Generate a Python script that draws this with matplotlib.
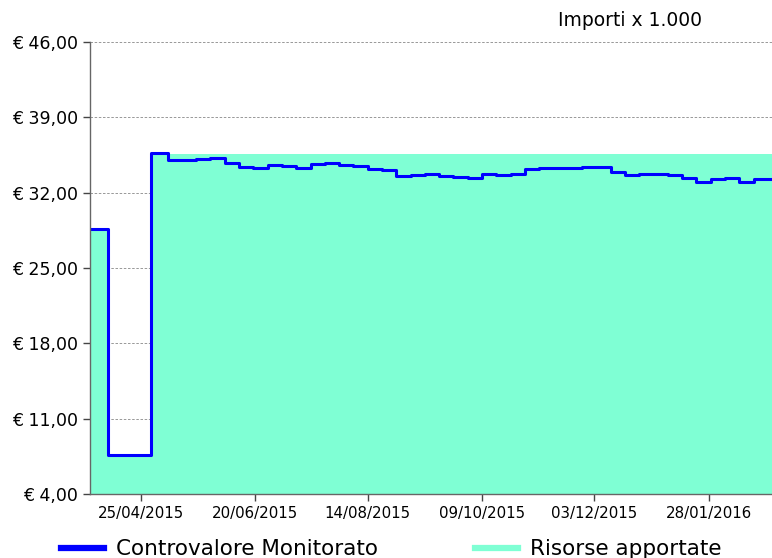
import numpy as np
import pandas as pd
import matplotlib as mpl
mpl.use('agg')
import matplotlib.pyplot as plt
import matplotlib.dates as mdates
from matplotlib.lines import Line2D

# Controvalore Monitorato (step data, values in thousands of euro)
monitor_dates = ['2015-03-31', '2015-04-09', '2015-04-30'] + \
    [d.strftime('%Y-%m-%d') for d in pd.date_range('2015-05-08', '2016-02-19', freq='7D')]
monitor_values = [28.6, 7.6, 35.65,
                  35.0, 35.0, 35.16, 35.25, 34.73, 34.42, 34.32, 34.6, 34.45, 34.26,
                  34.63, 34.73, 34.54, 34.45, 34.2, 34.13, 33.55, 33.64, 33.73, 33.55,
                  33.45, 33.33, 33.73, 33.64, 33.77, 34.17, 34.29, 34.29, 34.29, 34.39,
                  34.39, 33.95, 33.64, 33.77, 33.77, 33.64, 33.39, 33.02, 33.27, 33.36,
                  33.02, 33.24]

# Risorse apportate
risorse_dates = ['2015-03-31', '2015-04-09', '2015-04-30']
risorse_values = [28.6, 7.6, 35.6]

end_date = '2016-02-28'
tick_dates = ['2015-04-25', '2015-06-20', '2015-08-14', '2015-10-09', '2015-12-03', '2016-01-28']
y_ticks = [4, 11, 18, 25, 32, 39, 46]

m_x = pd.to_datetime(monitor_dates + [end_date])
m_y = monitor_values + [monitor_values[-1]]
r_x = pd.to_datetime(risorse_dates + [end_date])
r_y = risorse_values + [risorse_values[-1]]

fig = plt.figure(figsize=(7.72, 5.58), dpi=100)
ax = fig.add_axes([90/772, 1 - 494/558, 1 - 90/772, (494 - 42)/558])

ax.grid(axis='y', color='#888888', ls=(0, (3, 2)), lw=0.6, zorder=0)
ax.set_axisbelow(True)
ax.fill_between(r_x, 4, r_y, step='post', color='#7FFFD4', lw=0, zorder=1)
ax.step(m_x, m_y, where='post', color='#0000FF', lw=2.2, zorder=3)

ax.set_ylim(4, 46)
ax.set_xlim(pd.Timestamp('2015-03-31'), pd.Timestamp(end_date))
ax.set_yticks(y_ticks)
ax.set_yticklabels(['€ %d,00' % v for v in y_ticks], fontsize=12.5)
ax.set_xticks(pd.to_datetime(tick_dates))
ax.xaxis.set_major_formatter(mdates.DateFormatter('%d/%m/%Y'))
for lab in ax.get_xticklabels():
    lab.set_fontsize(10.8)

for s in ['top', 'right']:
    ax.spines[s].set_visible(False)
for s in ['left', 'bottom']:
    ax.spines[s].set_color('#666666')
    ax.spines[s].set_linewidth(1.0)
    ax.spines[s].set_zorder(4)
ax.tick_params(axis='both', direction='out', length=5, color='#444444', width=1)

fig.text(630/772, 0.963, 'Importi x 1.000', fontsize=13.5, ha='center', va='center')

handles = [Line2D([], [], color='#0000FF', lw=4.5),
           Line2D([], [], color='#7FFFD4', lw=4.5)]
fig.legend(handles, ['Controvalore Monitorato', 'Risorse apportate'],
           loc='center left', bbox_to_anchor=(61/772, 0.016), ncol=2, frameon=False,
           fontsize=15.5, handlelength=2.0, columnspacing=4.5, handletextpad=0.56,
           borderaxespad=0, borderpad=0)

plt.savefig('out.png', dpi=100)
